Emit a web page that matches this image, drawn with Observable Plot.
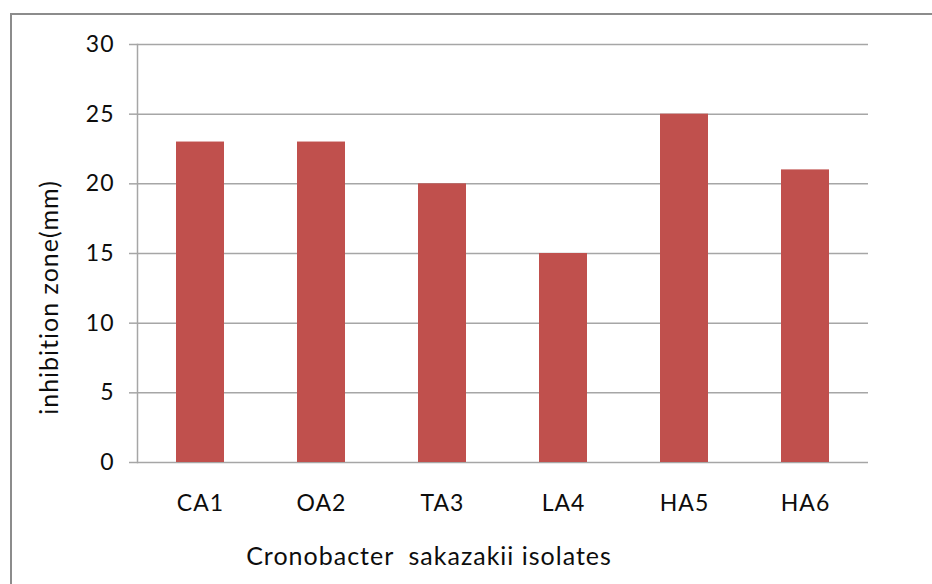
<!DOCTYPE html>
<html>
<head>
<meta charset="utf-8">
<script src="https://cdn.jsdelivr.net/npm/d3@7"></script>
<script src="https://cdn.jsdelivr.net/npm/@observablehq/plot@0.6"></script>
<style>
  html, body { margin: 0; padding: 0; background: #fff; overflow: hidden; }
  #wrap { position: relative; width: 932px; height: 584px; }
  #border { position: absolute; left: 10px; top: 13px; width: 1000px; height: 1000px;
            border-top: 2px solid #8c8c8c; border-left: 2px solid #8c8c8c; pointer-events: none; }
  svg text { letter-spacing: 1px; }
</style>
</head>
<body>
<div id="wrap"><div id="border"></div></div>
<script>
const categories = ["CA1", "OA2", "TA3", "LA4", "HA5", "HA6"];
const values = [23, 23, 20, 15, 25, 21];
const yTicks = [0, 5, 10, 15, 20, 25, 30];
const xTitle = "Cronobacter  sakazakii isolates";
const yTitle = "inhibition zone(mm)";

const data = categories.map((c, i) => ({ isolate: c, zone: values[i] }));
const FONT = "Lato, 'Open Sans', sans-serif";
const INK = "#0d0d0d";

const chart = Plot.plot({
  width: 932,
  height: 584,
  marginLeft: 137,
  marginRight: 64,
  marginTop: 44,
  marginBottom: 122,
  style: { fontFamily: FONT, fontSize: "23px", color: INK, background: "transparent" },
  x: { domain: categories, paddingInner: 0.6, paddingOuter: 0.3 },
  y: { domain: [0, 30] },
  marks: [
    Plot.ruleY(yTicks, { stroke: "#a6a6a6", strokeWidth: 1.5 }),
    Plot.barY(data, { x: "isolate", y: "zone", fill: "#C0504D" }),
    Plot.frame({ anchor: "left", stroke: "#a6a6a6", strokeWidth: 1.5 }),
    Plot.axisY({ ticks: yTicks, tickSize: 8, tickPadding: 15, stroke: "#a6a6a6", strokeWidth: 1.5,
      label: null, fontSize: 23, fill: INK }),
    Plot.axisX({ tickSize: 0, tickPadding: 32, label: null, fontSize: 23, fill: INK }),
    Plot.text([xTitle], { frameAnchor: "bottom", textAnchor: "middle", lineAnchor: "middle",
      dx: -74, dy: 94, fontSize: 25, fill: INK }),
    Plot.text([yTitle], { frameAnchor: "left", textAnchor: "middle", lineAnchor: "middle",
      rotate: -90, dx: -88, dy: 44, fontSize: 25, fill: INK })
  ]
});
document.getElementById("wrap").appendChild(chart);
chart.style.position = "absolute";
chart.style.left = "0px";
chart.style.top = "0px";
</script>
</body>
</html>
